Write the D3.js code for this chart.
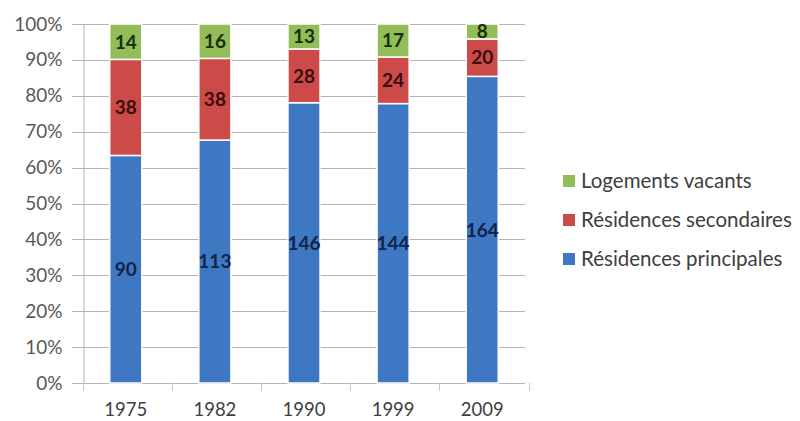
<!DOCTYPE html>
<html>
<head>
<meta charset="utf-8">
<script src="https://cdn.jsdelivr.net/npm/d3@7"></script>
<style>
  body { margin: 0; background: #fff; }
  text { font-family: Lato, "Open Sans", sans-serif; }
</style>
</head>
<body>
<div id="chart"></div>
<script>
// data
const years = ["1975", "1982", "1990", "1999", "2009"];
const principales = [90, 113, 146, 144, 164];
const secondaires = [38, 38, 28, 24, 20];
const vacants = [14, 16, 13, 17, 8];
const seriesNames = ["Résidences principales", "Résidences secondaires", "Logements vacants"];
const yTicks = [0, 0.1, 0.2, 0.3, 0.4, 0.5, 0.6, 0.7, 0.8, 0.9, 1];

const colors = ["#3f78c2", "#cc4a48", "#93bd58"];
const labelColors = ["#10234a", "#3a0d0d", "#17300c"];

const width = 800, height = 421;
const margin = { top: 24, right: 275, bottom: 38, left: 83 };

const svg = d3.select("#chart").append("svg")
  .attr("width", width)
  .attr("height", height);

const rows = years.map((y, i) => ({
  year: y,
  principales: principales[i],
  secondaires: secondaires[i],
  vacants: vacants[i]
}));
const keys = ["principales", "secondaires", "vacants"];

const stack = d3.stack().keys(keys).offset(d3.stackOffsetExpand);
const layers = stack(rows);

const x = d3.scaleBand()
  .domain(years)
  .range([margin.left, width - margin.right])
  .paddingInner(0.64)
  .paddingOuter(0.3);

const y = d3.scaleLinear()
  .domain([0, 1])
  .range([height - margin.bottom, margin.top]);

// gridlines
svg.append("g")
  .selectAll("line")
  .data(yTicks)
  .enter().append("line")
  .attr("x1", margin.left - 11)
  .attr("x2", width - margin.right)
  .attr("y1", d => Math.round(y(d)) + 0.5)
  .attr("y2", d => Math.round(y(d)) + 0.5)
  .attr("stroke", "#b4b4b4")
  .attr("stroke-width", 1);

// y axis
const yAxis = svg.append("g")
  .attr("transform", `translate(${margin.left + 0.5},0)`)
  .call(d3.axisLeft(y).tickValues(yTicks).tickFormat(d3.format(".0%")).tickSize(0).tickPadding(21));
yAxis.select(".domain").attr("stroke", "#b4b4b4");
yAxis.selectAll("text").attr("fill", "#595959").style("font-size", "19px");

// x axis
const xAxis = svg.append("g")
  .attr("transform", `translate(0,${Math.round(y(0)) + 0.5})`)
  .call(d3.axisBottom(x).tickSize(0).tickPadding(19));
xAxis.select(".domain").remove();
xAxis.selectAll("text").attr("fill", "#404040").style("font-size", "18.5px");

// category boundary ticks on x axis
const step = x.step();
svg.append("g")
  .selectAll("line")
  .data(d3.range(years.length + 1))
  .enter().append("line")
  .attr("x1", i => Math.round(margin.left + i * step) + 0.5)
  .attr("x2", i => Math.round(margin.left + i * step) + 0.5)
  .attr("y1", y(0))
  .attr("y2", y(0) + 8)
  .attr("stroke", "#c8c8c8");

// bars
const layerG = svg.append("g")
  .selectAll("g")
  .data(layers)
  .enter().append("g")
  .attr("fill", (d, i) => colors[i]);

layerG.selectAll("rect")
  .data(d => d)
  .enter().append("rect")
  .attr("x", d => x(d.data.year))
  .attr("width", x.bandwidth())
  .attr("y", d => y(d[1]))
  .attr("height", d => y(d[0]) - y(d[1]))
  .attr("stroke", "#fff")
  .attr("stroke-width", 1.5);

// value labels
layers.forEach((layer, li) => {
  svg.append("g")
    .selectAll("text")
    .data(layer)
    .enter().append("text")
    .attr("x", d => x(d.data.year) + x.bandwidth() / 2)
    .attr("y", d => (y(d[0]) + y(d[1])) / 2)
    .attr("dy", "0.36em")
    .attr("text-anchor", "middle")
    .attr("fill", labelColors[li])
    .style("font-size", "19px")
    .style("font-weight", "bold")
    .text(d => d.data[layer.key]);
});

// legend (top to bottom: vacants, secondaires, principales)
const legendItems = [2, 1, 0];
const legend = svg.append("g")
  .attr("transform", "translate(563,181)");
const li = legend.selectAll("g")
  .data(legendItems)
  .enter().append("g")
  .attr("transform", (d, i) => `translate(0,${i * 39})`);
li.append("rect")
  .attr("x", 0).attr("y", -6)
  .attr("width", 12).attr("height", 12)
  .attr("fill", d => colors[d]);
li.append("text")
  .attr("x", 18)
  .attr("y", 0)
  .attr("dy", "0.35em")
  .attr("fill", "#404040")
  .style("font-size", "20.5px")
  .text(d => seriesNames[d]);
</script>
</body>
</html>
